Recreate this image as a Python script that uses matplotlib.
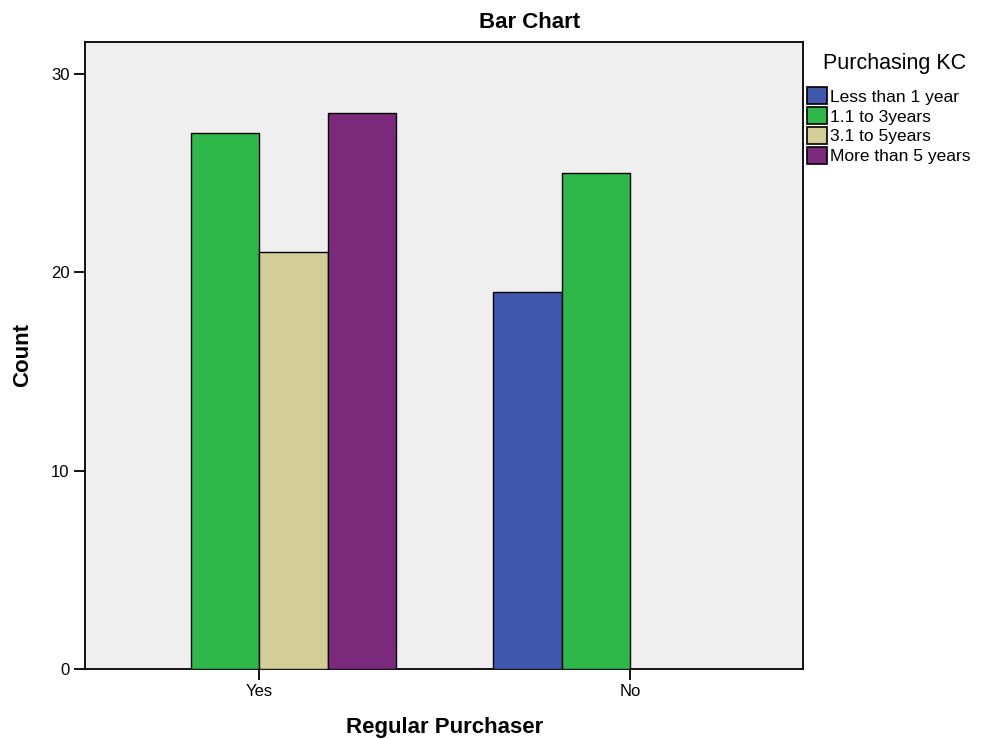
import matplotlib
matplotlib.use("Agg")
import matplotlib.pyplot as plt
import numpy as np
from matplotlib.patches import Patch

plt.rcParams['font.family'] = ['Liberation Sans', 'DejaVu Sans']

categories = ["Yes", "No"]
series_names = ["Less than 1 year", "1.1 to 3years", "3.1 to 5years", "More than 5 years"]
series_values = [
    [0, 19],
    [27, 25],
    [21, 0],
    [28, 0],
]
colors = ["#3f58ad", "#2fb84a", "#d3ce98", "#7b2a7b"]
y_ticks = [0, 10, 20, 30]

fig = plt.figure(figsize=(9.85, 7.39), dpi=100)
ax = fig.add_axes([85 / 985, 70 / 739, 718 / 985, 627 / 739])
ax.set_facecolor("#efefef")

x = np.arange(len(categories))
width = 0.1846
offsets = (np.arange(len(series_names)) - 1.5) * width
for vals, off, col in zip(series_values, offsets, colors):
    heights = np.array(vals, dtype=float)
    mask = heights > 0
    ax.bar(x[mask] + off, heights[mask], width=width, color=col,
           edgecolor="black", linewidth=1.0, zorder=3)

ax.set_xlim(-0.469, 1.466)
ax.set_ylim(0, 31.6)
ax.set_xticks(x)
ax.set_xticklabels(categories, fontsize=12)
ax.set_yticks(y_ticks)
ax.set_yticklabels([str(t) for t in y_ticks], fontsize=12)
ax.tick_params(axis="both", direction="out", length=8, width=1.3, color="black", pad=3)
for s in ax.spines.values():
    s.set_linewidth(1.3)
    s.set_color("black")

fig.text(530 / 985, 1 - 22 / 739, "Bar Chart", fontsize=16, fontweight="bold",
         ha="center", va="center")
fig.text(445 / 985, 1 - 727 / 739, "Regular Purchaser", fontsize=16, fontweight="bold",
         ha="center", va="center")
fig.text(23 / 985, 1 - 355 / 739, "Count", fontsize=16, fontweight="bold",
         ha="center", va="center", rotation=90)

# legend: title placed separately above the entries
fig.text(895 / 985, 1 - 63 / 739, "Purchasing KC", fontsize=15.5,
         ha="center", va="center")
handles = [Patch(facecolor=c, edgecolor="black", linewidth=1.2) for c in colors]
leg = fig.legend(handles, series_names, loc="upper left",
                 bbox_to_anchor=(804 / 985, 1 - 84 / 739), frameon=False,
                 fontsize=12.5, handlelength=1.1, handleheight=1.1,
                 handletextpad=0.2, labelspacing=0.15, borderaxespad=0.0,
                 borderpad=0.2)

fig.savefig("out.png", dpi=100)
